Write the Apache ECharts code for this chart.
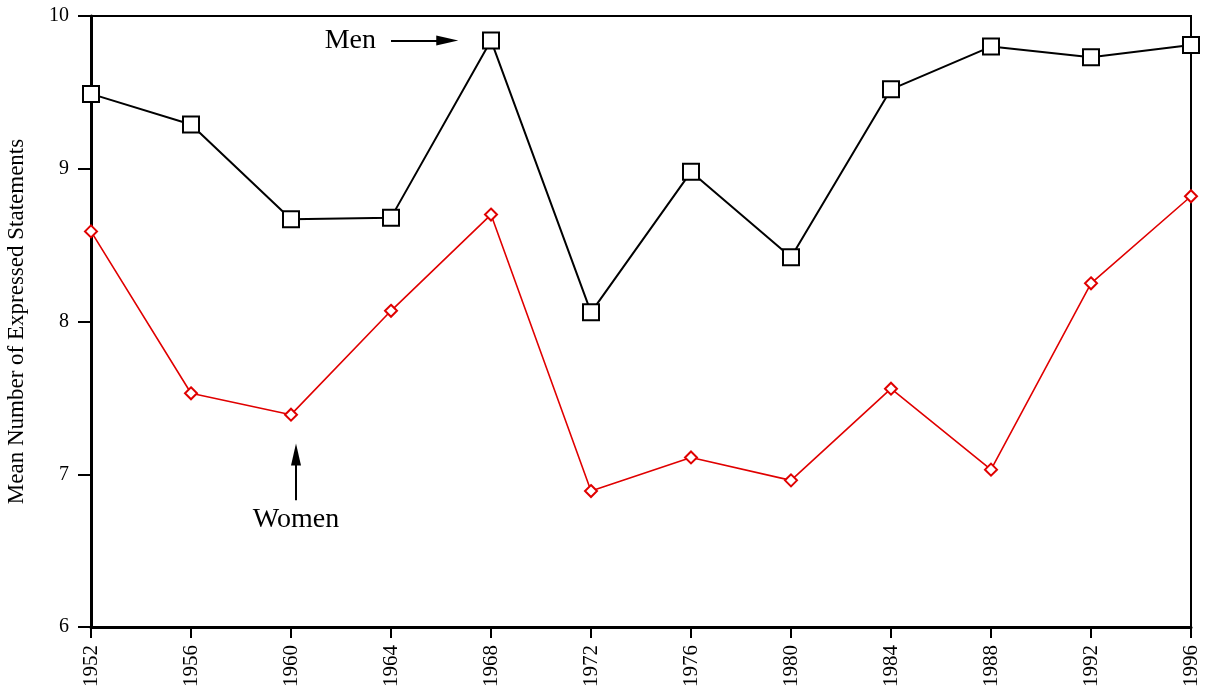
<!DOCTYPE html>
<html>
<head>
<meta charset="utf-8">
<script src="https://cdn.jsdelivr.net/npm/echarts@6/dist/echarts.min.js"></script>
<style>
  html, body { margin: 0; padding: 0; background: #fff; }
  #chart { width: 1209px; height: 692px; }
</style>
</head>
<body>
<div id="chart"></div>
<script>
// Election years and mean number of expressed statements
const years = [1952, 1956, 1960, 1964, 1968, 1972, 1976, 1980, 1984, 1988, 1992, 1996];
const men   = [9.49, 9.29, 8.67, 8.68, 9.84, 8.06, 8.98, 8.42, 9.52, 9.80, 9.73, 9.81];
const women = [8.59, 7.53, 7.39, 8.07, 8.70, 6.89, 7.11, 6.96, 7.56, 7.03, 8.25, 8.82];
const yTicks = [6, 7, 8, 9, 10];

const FONT = '"Liberation Serif", "DejaVu Serif", serif';

// narrow filled arrowhead for the callout pointers
const arrowHead = {
  symbol: ['none', 'triangle'], symbolSize: [10, 22],
  lineStyle: { color: '#000', width: 2, type: 'solid' },
  itemStyle: { color: '#000' }
};

const chart = echarts.init(document.getElementById('chart'));
chart.setOption({
  animation: false,
  backgroundColor: '#fff',
  grid: {
    left: 91, right: 18, top: 16, bottom: 65,
    outerBoundsMode: 'none', containLabel: false,
    show: true, borderColor: '#000', borderWidth: 2, backgroundColor: 'transparent'
  },
  xAxis: {
    type: 'value', min: 1952, max: 1996, interval: 4,
    axisLine: { lineStyle: { color: '#000', width: 3 } },
    axisTick: { length: 11, lineStyle: { color: '#000', width: 2 } },
    axisLabel: {
      rotate: 90, fontFamily: FONT, fontSize: 21, color: '#000', margin: 18,
      formatter: v => String(v)
    },
    splitLine: { show: false }
  },
  yAxis: {
    type: 'value', min: yTicks[0], max: yTicks[yTicks.length - 1], interval: 1,
    name: 'Mean Number of Expressed Statements',
    nameLocation: 'middle', nameGap: 63,
    nameTextStyle: { fontFamily: FONT, fontSize: 23, color: '#000' },
    axisLine: { show: true, lineStyle: { color: '#000', width: 3 } },
    axisTick: { show: true, length: 13, lineStyle: { color: '#000', width: 2 } },
    axisLabel: { fontFamily: FONT, fontSize: 20, color: '#000', margin: 22 },
    splitLine: { show: false }
  },
  series: [
    {
      name: 'Men', type: 'line', z: 3,
      data: years.map((y, i) => [y, men[i]]),
      symbol: 'rect', symbolSize: 16,
      itemStyle: { color: '#fff', borderColor: '#000', borderWidth: 2 },
      lineStyle: { color: '#000', width: 2 },
      markLine: Object.assign({
        silent: true,
        label: {
          show: true, position: 'start', formatter: 'Men',
          fontFamily: FONT, fontSize: 28, color: '#000', distance: 15
        },
        data: [[{ coord: [1964.0, 9.84] }, { coord: [1966.25, 9.84] }]]
      }, arrowHead)
    },
    {
      name: 'Women', type: 'line', z: 3,
      data: years.map((y, i) => [y, women[i]]),
      symbol: 'diamond', symbolSize: 12,
      itemStyle: { color: '#fff', borderColor: '#e00000', borderWidth: 2 },
      lineStyle: { color: '#e00000', width: 1.6 },
      markLine: Object.assign({
        silent: true,
        label: {
          show: true, position: 'start', formatter: 'Women',
          fontFamily: FONT, fontSize: 28, color: '#000', distance: 5
        },
        data: [[{ coord: [1960.2, 6.83] }, { coord: [1960.2, 7.13] }]]
      }, arrowHead)
    }
  ]
});
</script>
</body>
</html>
